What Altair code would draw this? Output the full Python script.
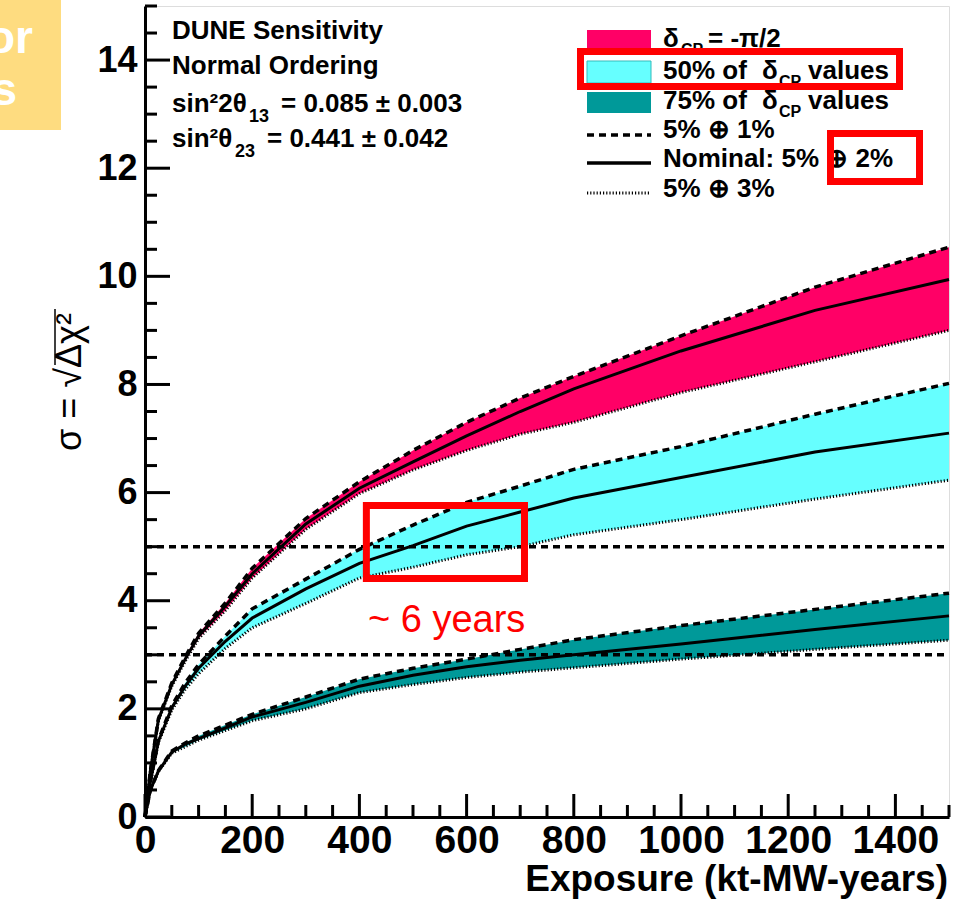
import altair as alt
import pandas as pd

# ---------------- data ----------------
exposure = [0, 10, 25, 50, 75, 100, 150, 200, 300, 400, 500, 600, 700, 800, 1000, 1250, 1500]

mag_hi  = [0, 0.85, 1.82, 2.48, 2.96, 3.40, 3.96, 4.60, 5.52, 6.20, 6.78, 7.30, 7.75, 8.15, 8.90, 9.80, 10.54]
mag_nom = [0, 0.85, 1.80, 2.45, 2.92, 3.35, 3.90, 4.50, 5.42, 6.08, 6.57, 7.05, 7.50, 7.92, 8.62, 9.37, 9.94]
mag_lo  = [0, 0.84, 1.78, 2.42, 2.88, 3.30, 3.82, 4.42, 5.32, 5.98, 6.42, 6.78, 7.08, 7.30, 7.85, 8.42, 9.00]

cya_hi  = [0, 0.66, 1.42, 2.06, 2.48, 2.82, 3.35, 3.85, 4.40, 4.95, 5.40, 5.82, 6.12, 6.43, 6.85, 7.45, 8.02]
cya_nom = [0, 0.65, 1.40, 2.02, 2.42, 2.75, 3.25, 3.68, 4.22, 4.69, 5.02, 5.38, 5.64, 5.90, 6.28, 6.75, 7.10]
cya_lo  = [0, 0.64, 1.38, 1.98, 2.36, 2.65, 3.12, 3.50, 3.95, 4.42, 4.62, 4.85, 5.00, 5.22, 5.50, 5.88, 6.23]

tea_hi  = [0, 0.50, 0.86, 1.22, 1.37, 1.50, 1.70, 1.90, 2.22, 2.55, 2.75, 2.92, 3.10, 3.28, 3.54, 3.84, 4.14]
tea_nom = [0, 0.50, 0.85, 1.20, 1.35, 1.45, 1.65, 1.85, 2.12, 2.42, 2.62, 2.78, 2.90, 3.00, 3.20, 3.47, 3.72]
tea_lo  = [0, 0.49, 0.84, 1.18, 1.30, 1.42, 1.60, 1.78, 2.00, 2.30, 2.45, 2.58, 2.68, 2.76, 2.92, 3.10, 3.27]

bands = ["dcp", "p50", "p75"]
band_colors = ["#FF0066", "#66FFFF", "#009999"]

sigma_levels = [3, 5]

x_major = [0, 200, 400, 600, 800, 1000, 1200, 1400]
x_minor = [v for v in range(0, 1501, 50) if v % 200 != 0]
y_major = [0, 2, 4, 6, 8, 10, 12, 14]
y_minor = [v / 2 for v in range(0, 31) if v % 4 != 0]

# annotation box (data units) around the 5 sigma crossing
box_x = [413, 708]
box_y = [4.41, 5.76]

# ---------------- build tables ----------------
rows = []
for b, hi, nom, lo in zip(bands, [mag_hi, cya_hi, tea_hi], [mag_nom, cya_nom, tea_nom], [mag_lo, cya_lo, tea_lo]):
    for x, h, n, l in zip(exposure, hi, nom, lo):
        rows.append({"x": x, "hi": h, "nom": n, "lo": l, "band": b})
df = pd.DataFrame(rows)

W, H = 804, 811
XS = alt.Scale(domain=[0, 1500], nice=False, zero=False)
YS = alt.Scale(domain=[0, 15], nice=False, zero=False)
FONT = "Liberation Sans"

base = alt.Chart(df)

areas = base.mark_area(opacity=1, interpolate="linear").encode(
    x=alt.X("x:Q", scale=XS,
            axis=alt.Axis(values=x_major, format="d", ticks=False, tickSize=0, grid=False, title=None,
                          labelFont=FONT, labelFontWeight="bold", labelFontSize=39,
                          labelColor="black", labelPadding=4, domainColor="black",
                          domainWidth=3, labelFlush=False, labelOverlap=False)),
    y=alt.Y("hi:Q", scale=YS, stack=None,
            axis=alt.Axis(values=y_major, format="d", ticks=False, tickSize=0, grid=False, title=None,
                          labelFont=FONT, labelFontWeight="bold", labelFontSize=36,
                          labelColor="black", labelPadding=8, domainColor="black",
                          domainWidth=3, labelFlush=False, labelOverlap=False)),
    y2="lo:Q",
    color=alt.Color("band:N", scale=alt.Scale(domain=bands, range=band_colors), legend=None),
)

nom_lines = base.mark_line(color="black", strokeWidth=3).encode(
    x=alt.X("x:Q", scale=XS), y=alt.Y("nom:Q", scale=YS), detail="band:N")
hi_lines = base.mark_line(color="black", strokeWidth=3.5, strokeDash=[7, 5]).encode(
    x=alt.X("x:Q", scale=XS), y=alt.Y("hi:Q", scale=YS), detail="band:N")
lo_lines = base.mark_line(color="black", strokeWidth=3, strokeDash=[1.2, 2]).encode(
    x=alt.X("x:Q", scale=XS), y=alt.Y("lo:Q", scale=YS), detail="band:N")

ref_df = pd.DataFrame({"y": sigma_levels, "x0": [0] * len(sigma_levels), "x1": [1500] * len(sigma_levels)})
refs = alt.Chart(ref_df).mark_rule(color="black", strokeWidth=3.5, strokeDash=[7, 5]).encode(
    x=alt.X("x0:Q", scale=XS), x2="x1:Q", y=alt.Y("y:Q", scale=YS))

# inward ticks (ROOT style)
def yt(vals, ln):
    return alt.Chart(pd.DataFrame({"v": vals})).mark_rule(color="black", strokeWidth=3).encode(
        y=alt.Y("v:Q", scale=YS), x=alt.value(0), x2=alt.value(ln))

def xt(vals, ln):
    return alt.Chart(pd.DataFrame({"v": vals})).mark_rule(color="black", strokeWidth=3).encode(
        x=alt.X("v:Q", scale=XS), y=alt.value(H), y2=alt.value(H - ln))

ticks = [yt(y_major, 25), yt(y_minor, 12), xt(x_major, 23), xt(x_minor, 12)]

# red annotation box on the plot
box_df = pd.DataFrame({"x0": [box_x[0]], "x1": [box_x[1]], "y0": [box_y[0]], "y1": [box_y[1]]})
red_box = alt.Chart(box_df).mark_rect(fillOpacity=0, stroke="#FF0000", strokeWidth=7).encode(
    x=alt.X("x0:Q", scale=XS), x2="x1:Q", y=alt.Y("y0:Q", scale=YS), y2="y1:Q")

one = pd.DataFrame({"a": [0]})

def txt(s, px, py, size, weight="bold", color="black", align="left", angle=0, font=FONT, baseline="alphabetic"):
    return alt.Chart(one).mark_text(text=s, align=align, baseline=baseline, font=font, fontSize=size,
                                    fontWeight=weight, color=color, angle=angle).encode(
        x=alt.value(px), y=alt.value(py))

def rect(x0, x1, y0, y1, fill=None, stroke=None, sw=0):
    kw = {}
    if fill is not None:
        kw["fill"] = fill
    else:
        kw["fillOpacity"] = 0
    if stroke is not None:
        kw["stroke"] = stroke
        kw["strokeWidth"] = sw
    return alt.Chart(one).mark_rect(**kw).encode(
        x=alt.value(x0), x2=alt.value(x1), y=alt.value(y0), y2=alt.value(y1))

def hline(x0, x1, y, dash=None, sw=3):
    kw = {"color": "black", "strokeWidth": sw}
    if dash is not None:
        kw["strokeDash"] = dash
    return alt.Chart(one).mark_rule(**kw).encode(
        x=alt.value(x0), x2=alt.value(x1), y=alt.value(y))

def vline(x, y0, y1, sw=1.5):
    return alt.Chart(one).mark_rule(color="black", strokeWidth=sw).encode(
        x=alt.value(x), y=alt.value(y0), y2=alt.value(y1))

# info text (top-left)
FS = 26
SS = 18
info = [
    txt("DUNE Sensitivity", 27, 33, FS),
    txt("Normal Ordering", 27, 68, FS),
    txt("sin²2θ", 27, 106, FS),
    txt("13", 104, 116, SS),
    txt("= 0.085 ± 0.003", 136, 106, FS),
    txt("sin²θ", 27, 141, FS),
    txt("23", 90, 151, SS),
    txt("= 0.441 ± 0.042", 122, 141, FS),
]

# legend (top-right)
LX = 518
legend = [
    rect(442, 506, 24, 46, fill="#FF0066"),
    rect(442, 506, 55, 77, fill="#66FFFF", stroke="#33BBBB", sw=1),
    rect(442, 506, 86, 107, fill="#009999"),
    hline(442, 506, 129, dash=[7, 5], sw=3.5),
    hline(442, 506, 157, sw=3.5),
    hline(442, 506, 187, dash=[1.2, 2], sw=3),
    txt("δ", LX, 41, FS),
    txt("CP", LX + 18, 49, 16),
    txt("= -π/2", 563, 41, FS),
    txt("50% of", LX, 73, FS),
    txt("δ", 617, 73, FS),
    txt("CP", 634, 81, 16),
    txt("values", 663, 73, FS),
    txt("75% of", LX, 103, FS),
    txt("δ", 617, 103, FS),
    txt("CP", 634, 111, 16),
    txt("values", 663, 103, FS),
    txt("5% ⊕ 1%", LX, 132, FS),
    txt("Nominal: 5% ⊕ 2%", LX, 161, FS),
    txt("5% ⊕ 3%", LX, 191, FS),
]

# highlight boxes on the legend
highlights = [
    rect(435.5, 754.5, 45.5, 80.5, stroke="#FF0000", sw=7),
    rect(685.5, 774.5, 127.5, 175.5, stroke="#FF0000", sw=7),
]

others = [
    txt("~ 6 years", 223, 626, 38, weight="normal", color="#FF0000"),
    txt("Exposure (kt-MW-years)", 803, 885, 37, align="right"),
    txt("σ = √Δχ²", -75, 376, 36, weight="normal", angle=270, align="center", baseline="middle"),
    vline(-90, 303, 359),
    rect(-145, -84, -6, 124, fill="#FEDC80"),
    txt("or", -112, 47, 46, color="white", align="right"),
    txt("s", -128, 99, 46, color="white", align="right"),
]

chart = alt.layer(
    areas, nom_lines, hi_lines, lo_lines, refs, *ticks, red_box, *info, *legend, *highlights, *others
).properties(
    width=W, height=H,
    autosize=alt.AutoSizeParams(type="none"),
    padding={"left": 145, "top": 6, "right": 17, "bottom": 82},
).configure_view(
    stroke="black", strokeWidth=2
).configure(background="white")

chart.save("out.html", embed_options={"renderer": "svg", "actions": False})
